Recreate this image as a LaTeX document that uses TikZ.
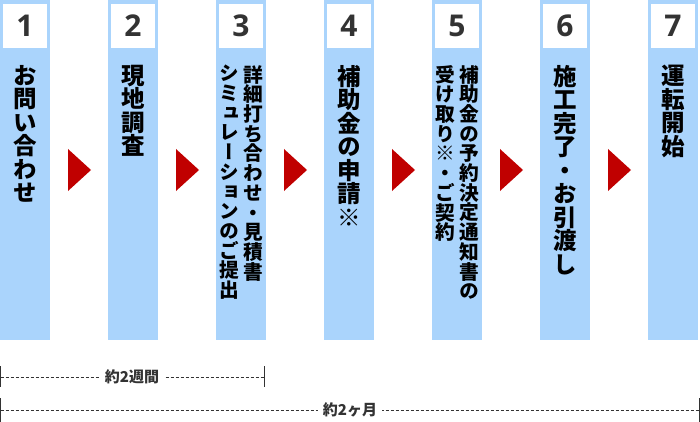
\documentclass[tikz,border=0pt]{standalone}
\usepackage{fontspec}
\newfontfamily\jpv{Noto Sans CJK JP}[RawFeature={+vert}]
\newfontfamily\jp{Noto Sans CJK JP}
\newfontfamily\numf{Open Sans}
\definecolor{colblue}{RGB}{170,212,252}
\definecolor{arrred}{RGB}{192,0,0}
\definecolor{numgray}{RGB}{51,51,51}
\begin{document}
\begin{tikzpicture}[x=1pt,y=-1pt,
  col/.style={fill=colblue, draw=none, minimum width=50pt, minimum height=340pt, inner sep=0pt, anchor=north west},
  numbox/.style={fill=white, minimum width=44pt, minimum height=44pt, inner sep=0pt, font=\numf\bfseries\fontsize{30}{30}\selectfont, text=numgray},
  vbig/.style={anchor=north, inner sep=0pt, align=center, font=\jpv\bfseries\fontsize{23.5}{23.5}\selectfont, text=black},
  vsmall/.style={anchor=north, inner sep=0pt, align=center, font=\jpv\bfseries\fontsize{19.7}{19.7}\selectfont, text=black},
  arrowtri/.style={fill=arrred},
  dim/.style={draw=numgray, line width=0.8pt, dash pattern=on 3pt off 2pt},
  tickline/.style={draw=numgray, line width=1pt},
  dimlabel/.style={fill=white, inner xsep=5pt, inner ysep=1pt, font=\jp\bfseries\fontsize{15}{15}\selectfont, text=numgray}
]
\useasboundingbox (0,0) rectangle (700,422);

% columns and number boxes
\foreach \i/\x in {1/0,2/108,3/216,4/324,5/432,6/540,7/648}{
  \node[col] (c\i) at (\x,0) {};
  \node[numbox] (n\i) at (\x+25,26) {\i};
}

% arrows
\foreach \x in {0,108,216,324,432,540}{
  \fill[arrowtri] (\x+68,149) -- (\x+91,170) -- (\x+68,191) -- cycle;
}

% vertical texts
\node[vbig] (t1) at (25,65) {お\\問\\い\\合\\わ\\せ};
\node[vbig] (t2) at (133,65) {現\\地\\調\\査};
\node[vsmall] (t3a) at (253,65) {詳\\細\\打\\ち\\合\\わ\\せ\\・\\見\\積\\書};
\node[vsmall] (t3b) at (229,65) {シ\\ミ\\ュ\\レ\\ー\\シ\\ョ\\ン\\の\\ご\\提\\出};
\node[vbig] (t4) at (349,65) {補\\助\\金\\の\\申\\請\\※};
\node[vsmall] (t5a) at (469,65) {補\\助\\金\\の\\予\\約\\決\\定\\通\\知\\書\\の};
\node[vsmall] (t5b) at (445,65) {受\\け\\取\\り\\※\\・\\ご\\契\\約};
\node[vbig] (t6) at (565,65) {施\\工\\完\\了\\・\\お\\引\\渡\\し};
\node[vbig] (t7) at (673,65) {運\\転\\開\\始};

% dimension lines
\coordinate (d1l) at (0.5,377);
\coordinate (d1r) at (264,377);
\coordinate (d2l) at (0.5,410);
\coordinate (d2r) at (699,410);
\draw[dim] (d1l) -- (d1r);
\draw[dim] (d2l) -- (d2r);
\draw[tickline] ([yshift=11pt]d1l) -- ([yshift=-10pt]d1l);
\draw[tickline] ([yshift=11pt]d1r) -- ([yshift=-10pt]d1r);
\draw[tickline] ([yshift=12pt]d2l) -- ([yshift=-12pt]d2l);
\draw[tickline] ([yshift=12pt]d2r) -- ([yshift=-12pt]d2r);
\node[dimlabel] (l1) at (132,377) {約2週間};
\node[dimlabel] (l2) at (350,410) {約2ヶ月};
\end{tikzpicture}
\end{document}
